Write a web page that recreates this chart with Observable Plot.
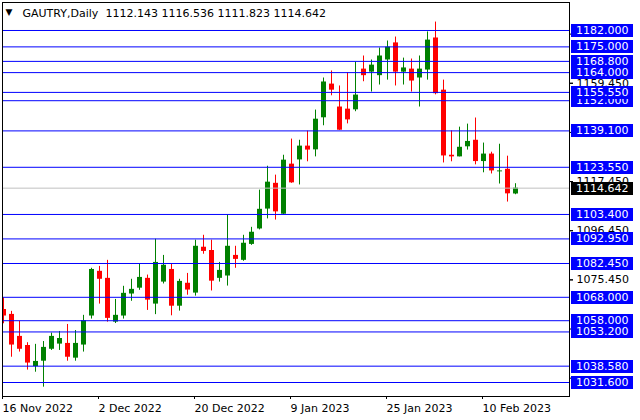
<!DOCTYPE html>
<html>
<head>
<meta charset="utf-8">
<script src="https://cdn.jsdelivr.net/npm/d3@7"></script>
<script src="https://cdn.jsdelivr.net/npm/@observablehq/plot@0.6"></script>
<style>
  html, body { margin: 0; padding: 0; background: #fff; }
  svg { display: block; }
</style>
</head>
<body>
<div id="chart"></div>
<script>
// ---------- data ----------
const symbol = "GAUTRY,Daily";
const dates = [
  "2022-11-16","2022-11-17","2022-11-18","2022-11-21","2022-11-22","2022-11-23","2022-11-24","2022-11-25",
  "2022-11-28","2022-11-29","2022-11-30","2022-12-01","2022-12-02","2022-12-05","2022-12-06","2022-12-07",
  "2022-12-08","2022-12-09","2022-12-12","2022-12-13","2022-12-14","2022-12-15","2022-12-16","2022-12-19",
  "2022-12-20","2022-12-21","2022-12-22","2022-12-23","2022-12-27","2022-12-28","2022-12-29","2022-12-30",
  "2023-01-03","2023-01-04","2023-01-05","2023-01-06","2023-01-09","2023-01-10","2023-01-11","2023-01-12",
  "2023-01-13","2023-01-16","2023-01-17","2023-01-18","2023-01-19","2023-01-20","2023-01-23","2023-01-24",
  "2023-01-25","2023-01-26","2023-01-27","2023-01-30","2023-01-31","2023-02-01","2023-02-02","2023-02-03",
  "2023-02-06","2023-02-07","2023-02-08","2023-02-09","2023-02-10","2023-02-13","2023-02-14","2023-02-15",
  "2023-02-16"
];
const open = [
  1062.8,1060.7,1051.3,1047.4,1038.4,1040.7,1045.8,1048.0,1048.3,1042.0,1047.6,1060.0,1079.1,1076.1,1057.4,1060.0,
  1069.4,1071.9,1076.1,1065.1,1074.5,1079.9,1064.2,1074.0,1069.8,1089.4,1088.0,1076.1,1077.1,1085.9,1083.8,1090.6,
  1097.2,1105.7,1116.7,1103.5,1124.9,1126.7,1132.6,1131.0,1144.7,1159.1,1149.3,1148.4,1148.1,1165.5,1164.2,1162.7,
  1169.4,1176.7,1164.2,1165.5,1161.7,1165.1,1178.8,1156.5,1128.7,1128.0,1132.3,1135.1,1126.0,1129.2,1121.6,1122.7,
  1112.143
];
const high = [
  1067.8,1062.0,1057.7,1048.6,1047.9,1049.1,1052.7,1053.4,1056.4,1053.8,1060.3,1080.4,1081.2,1083.8,1067.1,1072.7,
  1075.7,1082.4,1077.5,1092.8,1085.9,1082.1,1075.7,1078.2,1092.4,1094.5,1092.4,1082.9,1103.2,1089.8,1094.5,1097.9,
  1113.8,1124.0,1120.2,1128.7,1135.6,1135.1,1139.0,1148.0,1161.7,1164.7,1158.3,1163.9,1168.5,1171.1,1169.4,1174.5,
  1177.5,1179.2,1170.2,1169.8,1171.1,1181.4,1185.6,1160.8,1139.1,1140.7,1142.0,1144.6,1133.9,1130.0,1133.4,1128.3,
  1116.536
];
const low = [
  1056.7,1042.4,1044.6,1036.9,1036.0,1029.6,1045.3,1045.3,1040.7,1040.7,1044.6,1058.7,1065.1,1057.4,1056.8,1058.7,
  1066.3,1071.0,1062.4,1060.6,1073.7,1060.1,1062.1,1068.9,1068.5,1086.4,1070.7,1074.5,1072.8,1080.4,1083.4,1090.2,
  1096.8,1101.5,1101.0,1103.4,1116.7,1116.0,1125.9,1128.0,1141.3,1154.1,1139.3,1142.1,1147.3,1160.1,1155.7,1158.7,
  1160.8,1158.3,1158.7,1155.7,1149.3,1160.8,1154.5,1125.4,1125.9,1128.0,1130.9,1124.6,1121.2,1120.7,1116.4,1108.7,
  1111.823
];
const close = [
  1060.0,1047.6,1045.8,1039.9,1040.6,1046.6,1051.3,1050.4,1042.4,1048.3,1058.0,1079.9,1075.7,1059.0,1060.3,1069.7,
  1071.4,1076.5,1066.8,1082.9,1081.7,1064.2,1074.8,1071.1,1089.8,1087.6,1074.9,1079.5,1089.8,1084.2,1091.1,1095.8,
  1105.6,1117.2,1104.5,1126.6,1116.9,1132.6,1130.9,1144.1,1160.0,1156.5,1139.4,1143.8,1154.4,1162.7,1167.2,1171.1,
  1174.9,1164.2,1166.0,1160.4,1165.5,1177.9,1155.0,1128.4,1128.0,1132.1,1134.6,1126.0,1129.2,1122.0,1122.0,1112.2,
  1114.642
];
const levels = [1182.0, 1175.0, 1168.8, 1164.0, 1155.55, 1152.0, 1139.1, 1123.55,
                1103.4, 1092.95, 1082.45, 1068.0, 1058.0, 1053.2, 1038.58, 1031.6];
const priceTicks = [1180.45, 1159.45, 1138.45, 1117.45, 1096.45, 1075.45, 1054.45, 1033.45];
const priceTickLabels = [1159.45, 1117.45, 1096.45, 1075.45];
const dateTickIdx = [0, 12, 24, 36, 48, 60];
const dateTickLabels = ["16 Nov 2022", "2 Dec 2022", "20 Dec 2022", "9 Jan 2023", "25 Jan 2023", "10 Feb 2023"];

// ---------- styles ----------
const BLUE = "#0000ff", GREEN = "#008000", RED = "#ff0000", GRAY = "#c0c0c0";
const FONT = "DejaVu Sans";
const f3 = d3.format(".3f");

const bars = dates.map((d, i) => ({i, date: d, o: open[i], h: high[i], l: low[i], c: close[i]}));
const col = d => (d.c >= d.o ? GREEN : RED);
const last = bars[bars.length - 1];
const headerValues = [last.o, last.h, last.l, last.c].map(f3).join(" ");

const chart = Plot.plot({
  width: 640,
  height: 420,
  marginLeft: 2,
  marginRight: 71,
  marginTop: 2,
  marginBottom: 24,
  style: {fontFamily: FONT, fontSize: "11px", background: "#fff", color: "#000", overflow: "visible"},
  x: {type: "linear", domain: [-0.125, 70.75], axis: null},
  y: {domain: [1025.62, 1193.96], axis: null},
  marks: [
    // wicks
    Plot.ruleX(bars, {x: "i", y1: "l", y2: "h", stroke: col, strokeWidth: 1, clip: true}),
    // bodies
    Plot.ruleX(bars, {x: "i", y1: "o", y2: "c", stroke: col, strokeWidth: 5, clip: true}),
    // horizontal levels
    Plot.ruleY(levels, {stroke: BLUE, strokeWidth: 1}),
    Plot.ruleY([last.c], {stroke: GRAY, strokeWidth: 1}),
    // price axis: tick marks for every step, labels where they are not covered
    Plot.axisY({anchor: "right", ticks: priceTicks, tickSize: 3, tickFormat: null, text: null, label: null, stroke: "#000"}),
    Plot.axisY({anchor: "right", ticks: priceTickLabels, tickSize: 3, tickPadding: 4,
                tickFormat: f3, fontSize: 11, fill: "#000", stroke: "#000", label: null}),
    // date axis
    Plot.axisX({anchor: "bottom", ticks: dateTickIdx, tickSize: 3, tickPadding: 5,
                tickFormat: i => dateTickLabels[dateTickIdx.indexOf(i)],
                textAnchor: "start", dx: -1, fontSize: 11, label: null}),
    Plot.frame({stroke: "#000"}),
    // header
    Plot.text(["\u25BC"], {frameAnchor: "top-left", dx: 3, dy: 6, textAnchor: "start",
                           lineAnchor: "top", fontSize: 9, fill: "#000"}),
    Plot.text([symbol], {frameAnchor: "top-left", dx: 20, dy: 7, textAnchor: "start",
                         lineAnchor: "top", fontSize: 11, fill: "#000"}),
    Plot.text([headerValues], {frameAnchor: "top-left", dx: 103, dy: 7, textAnchor: "start",
                               lineAnchor: "top", fontSize: 11, fill: "#000"})
  ]
});

document.getElementById("chart").appendChild(chart);

// price labels (boxes) placed with the chart's own y scale
const sy = chart.scale("y");
const yOf = sy.apply ? v => sy.apply(v) : d3.scaleLinear(sy.domain, sy.range);
const g = d3.select(chart).append("g")
  .attr("font-family", FONT).attr("font-size", 11).attr("text-anchor", "start");
function priceLabel(v, fill) {
  const y = Math.round(yOf(v));
  g.append("rect").attr("x", 571).attr("y", y - 6).attr("width", 62).attr("height", 13).attr("fill", fill);
  g.append("text").attr("x", 576).attr("y", y).attr("dy", "0.36em")
    .attr("text-anchor", "start").attr("fill", "#fff").text(f3(v));
}
levels.slice().sort((a, b) => a - b).forEach(v => priceLabel(v, BLUE));
priceLabel(last.c, "#000");
</script>
</body>
</html>
